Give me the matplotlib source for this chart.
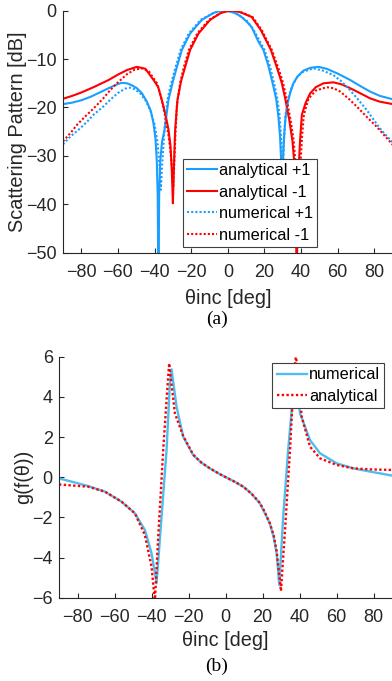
import matplotlib
matplotlib.use('Agg')
import matplotlib.pyplot as plt

# ---------------- (a) scattering pattern ----------------
theta_ana_p1 = [-90, -85, -80, -75, -70, -65, -61, -58, -55, -52, -49.7, -47, -44.2, -42, -40.6, -39.5, -38.8, -38.3, -37.9, -37.5,
                -36.9, -35.9, -34.6, -32.4, -30, -27.8, -25.1, -20.6, -14.2, -8, -5.25, -2.25, 0.75, 4, 7, 10.4, 13, 16.7, 19.4, 22, 24.9, 26.5, 27.6,
                28.5, 29.1, 29.6, 30.1, 30.7, 31.5, 32.7, 34.2, 35.8, 38, 41.2, 45, 49.4, 54, 60, 66.7, 72, 77.6, 83, 90]
db_ana_p1 = [-19.3, -19.0, -18.5, -17.8, -16.9, -16.0, -15.3, -14.9, -15.0, -15.5, -16.0, -17.0, -18.8, -20.8, -23.3, -26.5, -31, -38, -60, -38,
             -31, -27, -24.7, -18.4, -14.6, -11.6, -8.1, -4.7, -1.9, -0.5, -0.13, 0, -0.13, -0.5, -1.15, -2.3, -3.4, -6.4, -8.1, -11.2, -15.7, -18.5, -21.9,
             -26, -31, -40, -31, -26, -22, -19, -16.8, -15.0, -13.6, -12.4, -11.8, -11.6, -12.0, -13.0, -14.3, -15.5, -16.7, -17.6, -18.3]

theta_ana_m1 = [-90, -85, -80, -73.3, -65, -60, -55, -49.7, -45, -40.6, -38, -35.1, -33.5, -32.4, -31.3, -30.6, -30.0, -29.5, -28.8, -27.5,
                -25.5, -23.3, -20.6, -16, -9.7, -4, -0.75, 2.25, 5.25, 8, 13, 18, 23.5, 27, 29.5, 31.5, 33.5, 35.3, 36.6, 37.2, 37.6, 38.0,
                38.6, 39.4, 40.4, 42.5, 44.9, 48, 52.2, 57.6, 62, 66.7, 72, 77.6, 83, 90]
db_ana_m1 = [-18.2, -17.6, -16.9, -15.8, -14.3, -13.2, -12.25, -11.6, -12.0, -14.3, -15.8, -19.8, -22.5, -24.6, -28, -33, -39.8, -33, -24.7, -18.4,
             -14.5, -11.6, -8.1, -4.7, -1.9, -0.5, -0.13, 0, -0.13, -0.5, -1.3, -4.0, -8.1, -12.0, -15.0, -18.5, -22.5, -27, -33, -42, -60, -42,
             -33, -27, -21.5, -19, -17.1, -15.8, -15.0, -14.8, -15.2, -16.0, -17.0, -18.1, -18.8, -19.3]

theta_num_p1 = [-90, -86, -81.5, -77, -73.3, -68, -64.2, -60, -56, -53, -50.5, -47.8, -45, -42.4, -40, -38.5, -37.3, -36.6, -35.9, -35.1,
                -34.6, -33.1, -30.7, -28.5, -25.8, -21.3, -14.9, -8, -5, -2, 1, 4, 10.4, 14, 17.3, 20, 23, 25.5, 27, 28.2, 29.2, 29.9,
                30.6, 31.5, 33, 35, 38, 41.2, 46.7, 52, 57.6, 62, 66.7, 71, 75.8, 79, 83, 86.5, 90]
db_num_p1 = [-27.6, -26.0, -24.6, -23.0, -21.5, -19.8, -18.4, -17.0, -16.1, -15.9, -16.3, -17.1, -18.5, -20.5, -23.5, -27, -32, -37, -32, -27.5,
             -24.7, -18.6, -14.6, -11.6, -8.1, -4.7, -1.9, -0.5, -0.13, 0, -0.12, -0.4, -2.1, -3.9, -6.2, -8.1, -11.5, -15.4, -18.2, -21.5, -27, -35,
             -27, -21.5, -18, -15.6, -13.6, -12.6, -11.9, -12.4, -13.3, -14.6, -16.4, -18.3, -20.5, -22.2, -24.3, -25.8, -27.2]

theta_num_m1 = [-90, -86, -82.4, -78, -73.3, -68, -64.2, -60, -55, -51, -46.9, -43, -38.7, -36.5, -34.4, -32.5, -31.2, -30.4, -29.8, -29.2,
                -28.6, -27.8, -26, -24, -21.3, -16.7, -10.4, -4, -1, 2, 5, 8, 13.5, 18.5, 24, 27.7, 30.2, 32.2, 34.2, 36, 37.2, 37.9,
                38.4, 38.9, 39.6, 40.5, 41.5, 44, 48, 54, 57.6, 61.3, 66, 70.4, 76, 81.3, 86, 90]
db_num_m1 = [-27.0, -25.3, -23.6, -21.9, -20.2, -18.1, -16.4, -14.8, -13.1, -12.2, -11.9, -12.6, -15.0, -17.8, -21.5, -25.5, -29.5, -33, -36.5, -31,
             -25.5, -19.5, -14.8, -11.6, -8.1, -4.7, -1.9, -0.5, -0.13, 0, -0.12, -0.4, -1.3, -4.0, -8.1, -12.0, -15.0, -18.5, -22.5, -27, -33, -40,
             -46, -40, -32, -26, -21.5, -18.2, -16.5, -15.8, -16.0, -16.7, -18.2, -19.8, -22.0, -24.0, -26.0, -27.7]

# ---------------- (b) g(f(theta)) ----------------
theta_num_g = [-90, -82, -74.3, -65.2, -56.2, -49, -43.6, -40, -38.5, -37.3, -34.6, -31.9, -30.1, -29.2, -26.5, -22.9, -17.5, -13, -8.5, -4,
               0.5, 5, 9.5, 14, 18.5, 21, 23.9, 26, 27.6, 29.0, 31.1, 33.8, 35.7, 37.2, 40.2, 45.6, 51, 60, 69, 78, 90]
g_num = [-0.06, -0.25, -0.44, -0.72, -1.22, -1.80, -2.63, -3.79, -4.6, -5.28, -1.97, 1.35, 4.68, 5.37, 3.51, 2.02, 1.10, 0.72, 0.44, 0.2,
         -0.02, -0.23, -0.47, -0.82, -1.30, -1.75, -2.3, -3.0, -3.8, -5.37, -1.97, 1.35, 3.35, 5.3, 3.18, 1.85, 1.19, 0.69, 0.44, 0.28, 0.08]

theta_ana_g = [-90, -82, -74.3, -65.2, -56.2, -49, -43.6, -40, -38.2, -36.4, -33.7, -31.9, -30.5, -27.4, -22.9, -17.5, -13, -8.5, -4, 0.5,
               5, 9.5, 14, 18.5, 21, 23.9, 26, 27.6, 29.9, 32.1, 34.8, 36.5, 38.0, 41.1, 45.6, 51, 60, 69, 78, 90]
g_ana = [-0.36, -0.42, -0.47, -0.72, -1.22, -1.80, -2.88, -4.46, -6.2, -2.96, 1.35, 3.84, 5.67, 3.18, 2.05, 1.12, 0.72, 0.44, 0.2, -0.02,
         -0.23, -0.47, -0.82, -1.28, -1.7, -2.3, -2.9, -3.7, -5.67, -2.63, 1.35, 4.34, 6.1, 3.01, 1.52, 0.94, 0.61, 0.44, 0.39, 0.36]

xticks = [-80, -60, -40, -20, 0, 20, 40, 60, 80]
yticks_a = [-50, -40, -30, -20, -10, 0]
yticks_b = [-6, -4, -2, 0, 2, 4, 6]

plt.rcParams['font.family'] = ['Liberation Sans', 'DejaVu Sans']
AX_COL = '#262626'
BLUE = '#1A9EFF'
RED = '#FF0000'
LBLUE = '#4DBEEE'
DOT = (0, (1, 1))

fig = plt.figure(figsize=(3.92, 6.81), dpi=100)

def style(ax):
    for s in ['top', 'right']:
        ax.spines[s].set_visible(False)
    for s in ['left', 'bottom']:
        ax.spines[s].set_color(AX_COL)
        ax.spines[s].set_linewidth(0.8)
    ax.tick_params(direction='in', length=3.5, width=0.8, colors=AX_COL,
                   labelsize=13, labelcolor=AX_COL)
    ax.tick_params(axis='x', pad=8)
    ax.tick_params(axis='y', pad=4.5)

leg_kw = dict(borderaxespad=0, fontsize=11.7, frameon=True, fancybox=False, framealpha=1,
              edgecolor='#404040', handlelength=1.85, handletextpad=0.15,
              labelspacing=0.4, borderpad=0.25)

# (a)
ax1 = fig.add_axes([63/392, 428.3/681, 329.7/392, 242/681])
ax1.plot(theta_ana_p1, db_ana_p1, color=BLUE, lw=1.5, label='analytical +1')
ax1.plot(theta_ana_m1, db_ana_m1, color=RED, lw=1.5, label='analytical -1')
ax1.plot(theta_num_p1, db_num_p1, color=BLUE, lw=1.5, ls=DOT, label='numerical +1')
ax1.plot(theta_num_m1, db_num_m1, color=RED, lw=1.5, ls=DOT, label='numerical -1')
ax1.set_xlim(-90, 90)
ax1.set_ylim(-50, 0)
ax1.set_xticks(xticks)
ax1.set_yticks(yticks_a)
style(ax1)
ax1.set_xlabel('θinc [deg]', fontsize=14.3, color=AX_COL, va='top')
ax1.xaxis.set_label_coords(0.5, -0.148)
ax1.set_ylabel('Scattering Pattern [dB]', fontsize=14.3, color=AX_COL)
ax1.yaxis.set_label_coords(-0.11, 0.5)
leg1 = ax1.legend(loc='lower left', bbox_to_anchor=(0.363, 0.025), **leg_kw)
leg1.get_frame().set_linewidth(0.8)
for t in leg1.get_texts():
    t.set_color('black')

# (b)
ax2 = fig.add_axes([59/392, 83.3/681, 333.2/392, 241/681])
ax2.plot(theta_num_g, g_num, color=LBLUE, lw=1.7, label='numerical')
ax2.plot(theta_ana_g, g_ana, color=RED, lw=1.7, ls=DOT, label='analytical')
ax2.set_xlim(-90, 90)
ax2.set_ylim(-6, 6)
ax2.set_xticks(xticks)
ax2.set_yticks(yticks_b)
style(ax2)
ax2.set_xlabel('θinc [deg]', fontsize=14.3, color=AX_COL, va='top')
ax2.xaxis.set_label_coords(0.5, -0.14)
ax2.set_ylabel('g(f(θ))', fontsize=14.3, color=AX_COL)
ax2.yaxis.set_label_coords(-0.077, 0.5)
leg2 = ax2.legend(loc='upper right', bbox_to_anchor=(0.976, 0.973), **leg_kw)
leg2.get_frame().set_linewidth(0.8)
for t in leg2.get_texts():
    t.set_color('black')

fig.text(217/392, 1 - 319/681, '(a)', family='Liberation Serif', fontsize=14,
         ha='center', va='center', color='black')
fig.text(217/392, 1 - 666/681, '(b)', family='Liberation Serif', fontsize=14,
         ha='center', va='center', color='black')

fig.savefig('out.png', dpi=100)
